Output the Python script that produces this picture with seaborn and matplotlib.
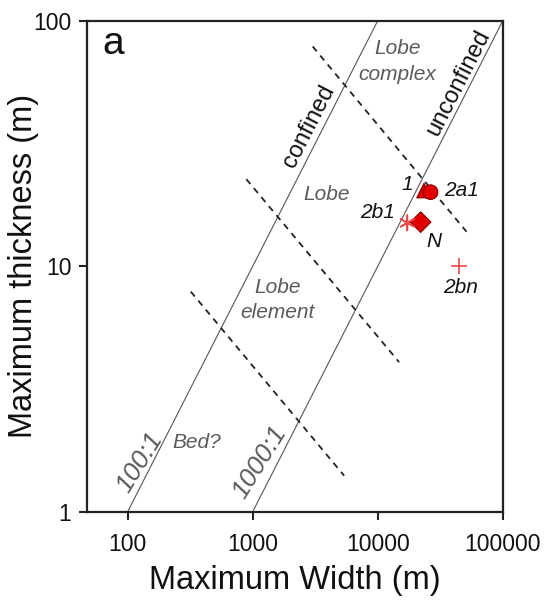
import matplotlib
matplotlib.use("Agg")
import matplotlib.pyplot as plt
import matplotlib.ticker as mticker
import seaborn as sns
import pandas as pd

# measured points (width m, thickness m)
point_labels = ["1", "2a1", "N", "2b1", "2bn"]
point_width = [23400, 26400, 22000, 17200, 44500]
point_thick = [20.3, 20.0, 15.1, 15.0, 10.0]

# aspect ratio guide lines
ratio_names = ["100:1", "1000:1"]
ratio_width = [[100, 10000], [1000, 100000]]
ratio_thick = [[1, 100], [1, 100]]

# dashed hierarchy boundaries
bound_width = [[3013, 51200], [887, 14800], [319, 5380]]
bound_thick = [[78.4, 13.8], [22.6, 4.06], [7.87, 1.40]]

x_ticks = [100, 1000, 10000, 100000]
y_ticks = [1, 10, 100]

sns.set_style("ticks")
plt.rcParams["font.family"] = ["Liberation Sans", "DejaVu Sans"]
plt.rcParams["text.color"] = "#111111"
plt.rcParams["axes.labelcolor"] = "#111111"
plt.rcParams["xtick.labelcolor"] = "#111111"
plt.rcParams["ytick.labelcolor"] = "#111111"

fig = plt.figure(figsize=(5.49, 6.04), dpi=100)
ax = fig.add_axes([0.158, 0.153, 0.758, 0.813])

for xs, ys in zip(ratio_width, ratio_thick):
    sns.lineplot(x=xs, y=ys, ax=ax, color="#555555", lw=0.8, estimator=None, sort=False)

for xs, ys in zip(bound_width, bound_thick):
    sns.lineplot(x=xs, y=ys, ax=ax, color="#222222", lw=1.3, estimator=None, sort=False,
                 dashes=False, linestyle=(0, (3.5, 3)))

pts = pd.DataFrame({"label": point_labels, "w": point_width, "t": point_thick})
filled = pts[pts["label"].isin(["1", "2a1", "N"])]
lineart = pts[pts["label"].isin(["2b1", "2bn"])]

sns.scatterplot(data=filled, x="w", y="t", style="label",
                markers={"1": "^", "2a1": "o", "N": "D"},
                s=110, color="#e00000", edgecolor="#8a0000", linewidth=0.8,
                ax=ax, legend=False, zorder=5)
sns.scatterplot(data=lineart, x="w", y="t", style="label",
                markers={"2b1": (6, 2, 0), "2bn": "+"},
                s=120, color="#ec4a4a", linewidth=1.2, ax=ax, legend=False, zorder=5)

ax.set_xscale("log")
ax.set_yscale("log")
ax.set_xlim(47, 100000)
ax.set_ylim(1, 100)
ax.set_xticks(x_ticks)
ax.set_yticks(y_ticks)
ax.xaxis.set_major_formatter(mticker.FuncFormatter(lambda v, p: f"{v:.0f}"))
ax.yaxis.set_major_formatter(mticker.FuncFormatter(lambda v, p: f"{v:.0f}"))
ax.xaxis.set_minor_locator(mticker.NullLocator())
ax.yaxis.set_minor_locator(mticker.NullLocator())
ax.tick_params(axis="both", which="major", direction="out", length=6, width=1.5,
               labelsize=16.5, color="#222222")
ax.tick_params(axis="x", pad=9.5)
ax.tick_params(axis="y", pad=5)
for sp in ax.spines.values():
    sp.set_linewidth(1.6)
    sp.set_color("#222222")

ax.set_xlabel("Maximum Width (m)", fontsize=23.5, labelpad=6.5)
ax.set_ylabel("Maximum thickness (m)", fontsize=23.5, labelpad=-4)

ax.text(0.0625, 0.9525, "a", transform=ax.transAxes, fontsize=28, ha="center", va="center")

grey = "#5a5a5a"
ax.text(14300, 67.9, "Lobe\ncomplex", color=grey, style="italic", fontsize=15,
        ha="center", va="center", linespacing=1.45)
ax.text(3870, 19.5, "Lobe", color=grey, style="italic", fontsize=15,
        ha="center", va="center")
ax.text(1578, 7.28, "Lobe\nelement", color=grey, style="italic", fontsize=15,
        ha="center", va="center", linespacing=1.4)
ax.text(357, 1.92, "Bed?", color=grey, style="italic", fontsize=15,
        ha="center", va="center")
ax.text(125, 1.58, ratio_names[0], color=grey, style="italic", fontsize=19,
        ha="center", va="center", rotation=58)
ax.text(1133, 1.59, ratio_names[1], color=grey, style="italic", fontsize=19,
        ha="center", va="center", rotation=58)
ax.text(2840, 36.9, "confined", fontsize=17, ha="center", va="center", rotation=63)
ax.text(44500, 55.7, "unconfined", fontsize=17, ha="center", va="center", rotation=63)

label_pos = {"1": (17100, 21.4), "2a1": (47000, 20.4), "2b1": (9860, 16.5),
             "N": (28100, 12.55), "2bn": (46100, 8.15)}
for lab in point_labels:
    lx, ly = label_pos[lab]
    ax.text(lx, ly, lab, style="italic", fontsize=15, ha="center", va="center")

plt.savefig("out.png", dpi=100)
